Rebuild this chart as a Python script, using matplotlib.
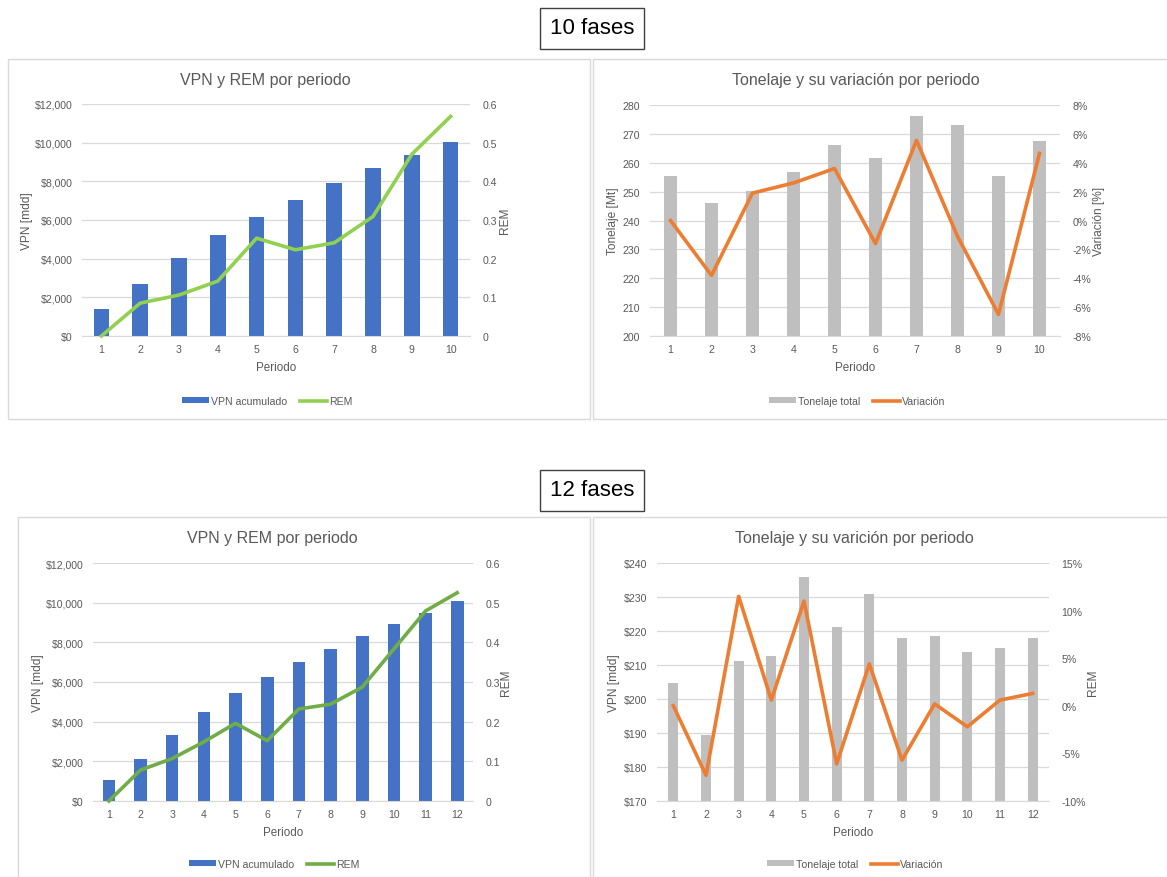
import matplotlib
matplotlib.use("Agg")
import matplotlib.pyplot as plt
from matplotlib.patches import Rectangle
from matplotlib.ticker import FuncFormatter, MultipleLocator

plt.rcParams['font.family'] = ['Liberation Sans', 'DejaVu Sans']

W, H = 1167, 878

# ---- 10 fases ----
periodos_10 = list(range(1, 11))
vpn_10 = [1380, 2680, 4040, 5210, 6160, 7010, 7890, 8700, 9380, 10010]
rem_10 = [0.0, 0.085, 0.106, 0.142, 0.253, 0.223, 0.241, 0.309, 0.470, 0.568]
ton_10 = [255.5, 245.9, 250.3, 256.9, 266.0, 261.6, 276.2, 273.2, 255.5, 267.4]
var_10 = [0.0, -3.8, 1.9, 2.6, 3.6, -1.6, 5.55, -1.1, -6.5, 4.65]

# ---- 12 fases ----
periodos_12 = list(range(1, 13))
vpn_12 = [1060, 2110, 3340, 4480, 5430, 6240, 7030, 7650, 8310, 8900, 9490, 10080]
rem_12 = [0.0, 0.078, 0.107, 0.149, 0.196, 0.152, 0.232, 0.244, 0.287, 0.383, 0.479, 0.525]
ton_12 = [204.6, 189.5, 211.3, 212.7, 235.9, 221.3, 231.0, 218.0, 218.5, 213.7, 214.9, 217.8]
var_12 = [0.0, -7.3, 11.5, 0.6, 11.0, -6.1, 4.4, -5.7, 0.2, -2.2, 0.6, 1.3]

BLUE = '#4472C4'
GREEN_LIGHT = '#92D050'
GREEN = '#70AD47'
GRAY_BAR = '#BFBFBF'
ORANGE = '#ED7D31'
TXT = '#595959'
GRID = '#D9D9D9'

fig = plt.figure(figsize=(W / 100, H / 100), dpi=100)


def fx(x):
    return x / W


def fy(y):
    return 1 - y / H


def box(x0, y0, x1, y1):
    return [fx(x0), fy(y1), fx(x1) - fx(x0), fy(y0) - fy(y1)]


# panel frames
for (x0, y0, x1, y1) in [(8, 60, 590, 420), (593, 60, 1180, 420),
                         (18, 518, 590, 900), (593, 518, 1180, 900)]:
    fig.add_artist(Rectangle((fx(x0), fy(y1)), fx(x1) - fx(x0), fy(y0) - fy(y1),
                             transform=fig.transFigure, fill=False,
                             edgecolor='#D9D9D9', linewidth=1.0, zorder=0))

# section headings
for label, yc in [("10 fases", 29), ("12 fases", 491)]:
    fig.text(fx(592), fy(yc), label, fontsize=16, color='black',
             ha='center', va='center',
             bbox=dict(boxstyle='square,pad=0.45', facecolor='white',
                       edgecolor='#404040', linewidth=1.0))


def panel(rect, cats, bars, line, bar_color, line_color, bar_width,
          ylim, ystep, yfmt, y2lim, y2step, y2fmt,
          title, title_xy, ylab, ylab_x, y2lab, y2lab_x,
          xlab_y, bar_name, line_name, legend_xy):
    ax = fig.add_axes(box(*rect))
    ax2 = ax.twinx()
    ax.set_zorder(1)
    ax2.set_zorder(2)
    ax.patch.set_visible(False)

    ax.bar(cats, bars, width=bar_width, color=bar_color, label=bar_name, zorder=2)
    ax2.plot(cats, line, color=line_color, linewidth=2.6, label=line_name,
             solid_joinstyle='round', clip_on=False, zorder=3)

    ax.set_xlim(0.5, len(cats) + 0.5)
    ax.set_ylim(*ylim)
    ax.yaxis.set_major_locator(MultipleLocator(ystep))
    ax.yaxis.set_major_formatter(FuncFormatter(yfmt))
    ax2.set_ylim(*y2lim)
    ax2.yaxis.set_major_locator(MultipleLocator(y2step))
    ax2.yaxis.set_major_formatter(FuncFormatter(y2fmt))
    ax.set_xticks(cats)
    ax.set_xticklabels([str(c) for c in cats])

    ax.grid(axis='y', color=GRID, linewidth=0.9, zorder=0)
    ax.set_axisbelow(True)
    for a in (ax, ax2):
        for s in a.spines.values():
            s.set_visible(False)
        a.tick_params(length=0, labelsize=7.6, colors=TXT)
    ax.spines['bottom'].set_visible(True)
    ax.spines['bottom'].set_color(GRID)
    ax.tick_params(axis='y', pad=7)
    ax.tick_params(axis='x', pad=6)
    ax2.tick_params(axis='y', pad=9)

    axw = rect[2] - rect[0]
    ax.set_ylabel(ylab, fontsize=8.6, color=TXT)
    ax.yaxis.set_label_coords((ylab_x + 5 - rect[0]) / axw, 0.5)
    ax2.set_ylabel(y2lab, fontsize=8.6, color=TXT)
    ax2.yaxis.set_label_coords((y2lab_x - 5 - rect[0]) / axw, 0.5)
    ax.set_xlabel('')

    fig.text(fx(title_xy[0]), fy(title_xy[1]), title, fontsize=11.5,
             color=TXT, ha='center', va='center')
    fig.text(fx((rect[0] + rect[2]) / 2), fy(xlab_y), 'Periodo', fontsize=8.4,
             color=TXT, ha='center', va='center')

    h1, l1 = ax.get_legend_handles_labels()
    h2, l2 = ax2.get_legend_handles_labels()
    fig.legend(h1 + h2, l1 + l2, loc='center',
               bbox_to_anchor=(fx(legend_xy[0]), fy(legend_xy[1])),
               ncol=2, frameon=False, fontsize=7.6, labelcolor=TXT,
               handlelength=2.6, handleheight=0.55, handletextpad=0.15,
               columnspacing=1.2)
    return ax, ax2


def money(v, _):
    return f"${v:,.0f}"


def rem_fmt(v, _):
    return '0' if abs(v) < 1e-9 else f"{v:.1f}"


def pct(v, _):
    return f"{v:.0f}%"


def plain(v, _):
    return f"{v:.0f}"


panel((82, 105, 470, 337), periodos_10, vpn_10, rem_10, BLUE, GREEN_LIGHT, 0.4,
      (0, 12000), 2000, money, (0, 0.6), 0.1, rem_fmt,
      'VPN y REM por periodo', (265, 80), 'VPN [mdd]', 28, 'REM', 504,
      368, 'VPN acumulado', 'REM', (267, 402))

panel((650, 106, 1060, 337), periodos_10, ton_10, var_10, GRAY_BAR, ORANGE, 0.33,
      (200, 280), 10, plain, (-8, 8), 2, pct,
      'Tonelaje y su variación por periodo', (856, 80), 'Tonelaje [Mt]', 614,
      'Variación [%]', 1098, 368, 'Tonelaje total', 'Variación', (857, 402))

panel((93, 564, 473, 802), periodos_12, vpn_12, rem_12, BLUE, GREEN, 0.4,
      (0, 12000), 2000, money, (0, 0.6), 0.1, rem_fmt,
      'VPN y REM por periodo', (272, 539), 'VPN [mdd]', 39, 'REM', 505,
      833, 'VPN acumulado', 'REM', (274, 865))

panel((657, 564, 1049, 802), periodos_12, ton_12, var_12, GRAY_BAR, ORANGE, 0.31,
      (170, 240), 10, money, (-10, 15), 5, pct,
      'Tonelaje y su varición por periodo', (854, 539), 'VPN [mdd]', 615,
      'REM', 1092, 833, 'Tonelaje total', 'Variación', (855, 865))

fig.savefig('out.png', dpi=100, facecolor='white')
